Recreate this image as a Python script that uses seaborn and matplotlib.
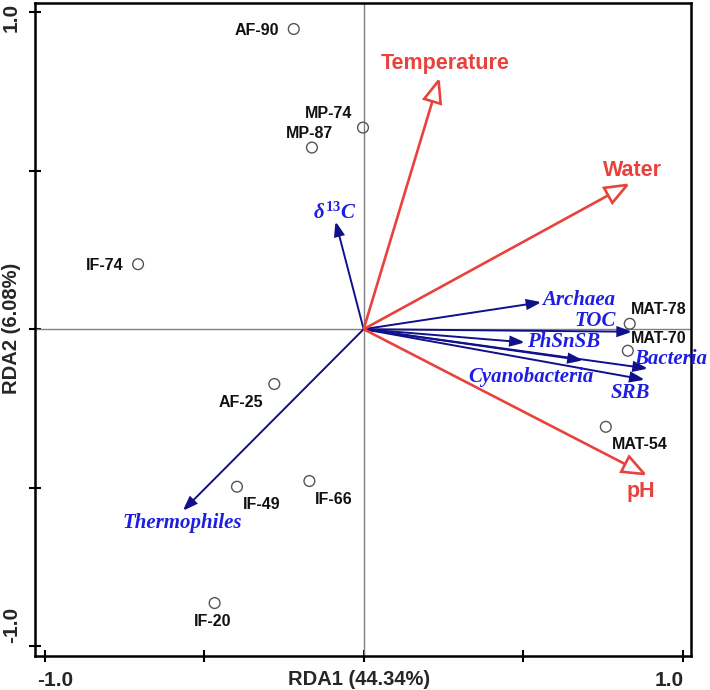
import numpy as np
import pandas as pd
import matplotlib
matplotlib.use("Agg")
import matplotlib.pyplot as plt
import matplotlib.transforms as mtransforms
import seaborn as sns

# ---- data ----
sites = ['AF-90', 'MP-74', 'MP-87', 'IF-74', 'AF-25', 'IF-49', 'IF-66', 'IF-20',
         'MAT-78', 'MAT-70', 'MAT-54']
site_x = [-0.219, -0.002, -0.162, -0.707, -0.280, -0.397, -0.170, -0.467, 0.834, 0.828, 0.759]
site_y = [0.947, 0.636, 0.573, 0.205, -0.173, -0.497, -0.479, -0.864, 0.017, -0.068, -0.308]

env_vars = ['Temperature', 'Water', 'pH']
env_x = [0.235, 0.826, 0.880]
env_y = [0.784, 0.455, -0.457]

species = [r'$\delta^{13}C$', 'Thermophiles', 'Archaea', 'TOC', 'PhSnSB', 'Bacteria',
           'Cyanobacteria', 'SRB']
sp_x = [-0.086, -0.561, 0.549, 0.833, 0.497, 0.883, 0.679, 0.873]
sp_y = [0.332, -0.567, 0.084, -0.008, -0.041, -0.123, -0.097, -0.158]

x_ticks = [-1.0, -0.5, 0.0, 0.5, 1.0]
x_tick_labels = ['-1.0', '', '', '', '1.0']
y_ticks = [-1.0, -0.5, 0.0, 0.5, 1.0]
y_tick_labels = ['-1.0', '', '', '', '1.0']
x_title = 'RDA1 (44.34%)'
y_title = 'RDA2 (6.08%)'

# ---- layout / style ----
site_offsets = {  # label offsets in points, (dx, dy, ha)
    'AF-90': (-26.5, -1, 'center'), 'MP-74': (-25, 10, 'center'), 'MP-87': (-2, 10, 'center'),
    'IF-74': (-24, -1, 'center'), 'AF-25': (-24, -13, 'center'), 'IF-49': (18, -13, 'center'),
    'IF-66': (17.5, -13, 'center'), 'IF-20': (-1.5, -13, 'center'), 'MAT-78': (21, 10, 'center'),
    'MAT-70': (22.5, 8.5, 'center'), 'MAT-54': (24.5, -13, 'center'),
}
env_offsets = {'Temperature': (5, 12.7, 'center'), 'Water': (3.6, 10.3, 'center'),
               'pH': (-2.4, -12.5, 'center')}
sp_offsets = [(-1.4, 7.8, 'center'), (-1.9, -10.3, 'center'), (2.5, 2, 'left'),
              (-10, 8, 'right'), (3.6, 0.4, 'left'), (-7.8, 6.7, 'left'),
              (-35.5, -12, 'center'), (-8.4, -10, 'center')]

RED = '#e8423d'
NAVY = '#10108a'
BLUE = '#1e1ee0'

sns.set_theme(style='white')
plt.rcParams['font.family'] = ['Liberation Sans', 'DejaVu Sans']
plt.rcParams['mathtext.fontset'] = 'custom'
plt.rcParams['mathtext.it'] = 'Liberation Serif:italic:bold'
plt.rcParams['mathtext.rm'] = 'Liberation Serif:bold'

fig = plt.figure(figsize=(7.1, 6.9), dpi=100)
ax = fig.add_axes([35 / 710, 34 / 690, 656 / 710, 653 / 690])
ax.set_xlim(-1.03, 1.026)
ax.set_ylim(-1.031, 1.029)

ax.axhline(0, color='#808080', lw=1.0, zorder=1)
ax.axvline(0, color='#808080', lw=1.0, zorder=1)


def draw_arrow(x, y, color, lw, hl, hw, fill, z):
    L = np.hypot(x, y)
    ux, uy = x / L, y / L
    bx, by = x - ux * hl, y - uy * hl
    ax.plot([0, bx], [0, by], color=color, lw=lw, solid_capstyle='butt', zorder=z)
    px, py = -uy * hw, ux * hw
    poly_x = [x, bx + px, bx - px]
    poly_y = [y, by + py, by - py]
    ax.fill(poly_x, poly_y, facecolor=color if fill else 'white', edgecolor=color,
            lw=lw, joinstyle='miter', zorder=z + 0.1)


for x, y in zip(sp_x, sp_y):
    draw_arrow(x, y, NAVY, 1.4, 0.038, 0.0135, True, 3)
for x, y in zip(env_x, env_y):
    draw_arrow(x, y, RED, 1.9, 0.068, 0.027, False, 4)

df = pd.DataFrame({'x': site_x, 'y': site_y, 'site': sites})
sns.scatterplot(data=df, x='x', y='y', ax=ax, s=60, marker='o', facecolor='none',
                edgecolor='#555555', linewidth=1.0, zorder=5, legend=False)

for s, x, y in zip(sites, site_x, site_y):
    dx, dy, ha = site_offsets[s]
    ax.annotate(s, (x, y), xytext=(dx, dy), textcoords='offset points', ha=ha, va='center',
                fontsize=11.5, fontweight='bold', color='#111111', zorder=6)

for name, x, y in zip(env_vars, env_x, env_y):
    dx, dy, ha = env_offsets[name]
    ax.annotate(name, (x, y), xytext=(dx, dy), textcoords='offset points', ha=ha, va='center',
                fontsize=15.5, fontweight='bold', color=RED, zorder=6)

for name, x, y, (dx, dy, ha) in zip(species, sp_x, sp_y, sp_offsets):
    ax.annotate(name, (x, y), xytext=(dx, dy), textcoords='offset points', ha=ha, va='center',
                fontsize=15, fontweight='bold', fontstyle='italic', family='Liberation Serif',
                color=BLUE, zorder=6)

ax.set_xticks(x_ticks)
ax.set_xticklabels(x_tick_labels)
ax.set_yticks(y_ticks)
ax.set_yticklabels(y_tick_labels)
ax.tick_params(axis='both', direction='inout', length=8, width=1.5, color='black',
               labelsize=15, bottom=True, left=True)
ax.tick_params(axis='x', pad=7)
ax.tick_params(axis='y', pad=6, labelrotation=90)
for lab in ax.get_xticklabels() + ax.get_yticklabels():
    lab.set_fontweight('bold')
for lab in ax.get_yticklabels():
    lab.set_va('center')

ax.set_xlabel(x_title, fontsize=14.5, fontweight='bold')
ax.set_ylabel(y_title, fontsize=14.5, fontweight='bold')
ax.xaxis.set_label_coords(0.494, -0.021)
ax.yaxis.set_label_coords(-0.021, 0.502)

for sp in ax.spines.values():
    sp.set_color('black')
    sp.set_linewidth(1.8)

# nudge the end tick labels inward, as in the reference
shifts_x = {0: (8, 0), 4: (-10, 0)}
shifts_y = {0: (0, 15), 4: (0, -4)}
xt = ax.xaxis.get_major_ticks()
yt = ax.yaxis.get_major_ticks()
for i, (dx, dy) in shifts_x.items():
    lab = xt[i].label1
    lab.set_transform(lab.get_transform() +
                      mtransforms.ScaledTranslation(dx / 72, dy / 72, fig.dpi_scale_trans))
for i, (dx, dy) in shifts_y.items():
    lab = yt[i].label1
    lab.set_transform(lab.get_transform() +
                      mtransforms.ScaledTranslation(dx / 72, dy / 72, fig.dpi_scale_trans))

fig.savefig('out.png', dpi=100, facecolor='white')
